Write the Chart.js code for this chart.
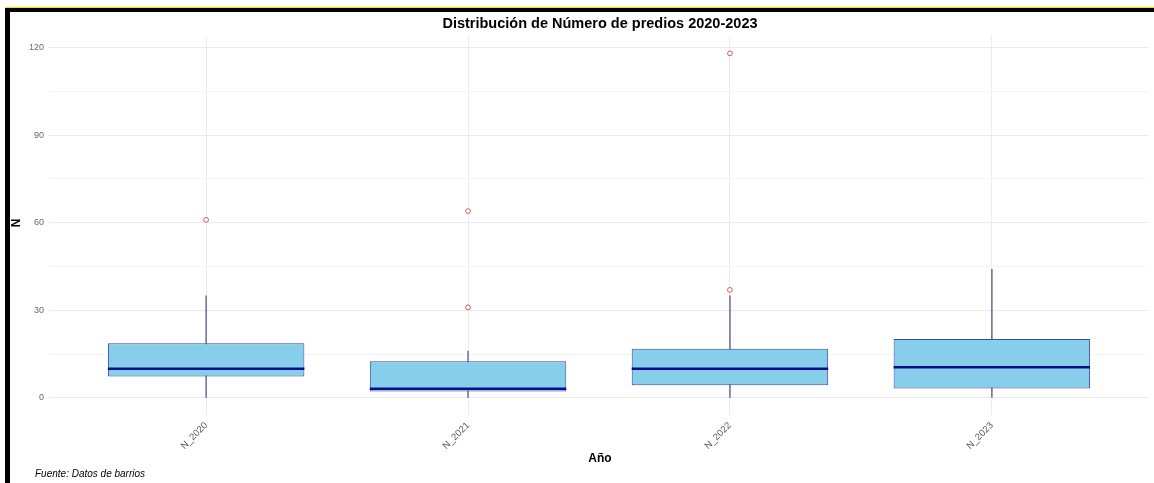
<!DOCTYPE html>
<html lang="es">
<head>
<meta charset="utf-8">
<title>Distribución de Número de predios 2020-2023</title>
<script src="https://cdn.jsdelivr.net/npm/chart.js@4/dist/chart.umd.min.js"></script>
<style>
  html, body { margin: 0; padding: 0; background: #ffffff; }
  #wrap { position: relative; width: 1154px; height: 483px; overflow: hidden; font-family: "Liberation Sans", Arial, sans-serif; }
  #chart { position: absolute; left: 0; top: 0; }
  .frame-top-accent { position: absolute; left: 5px; top: 7px; width: 1149px; height: 1px; background: #f2e600; }
  .frame-top { position: absolute; left: 5px; top: 8px; width: 1149px; height: 4px; background: #000; }
  .frame-left { position: absolute; left: 5px; top: 8px; width: 5px; height: 475px; background: #000; }
  .txt { position: absolute; color: #000; white-space: nowrap; }
  #title { left: 0; width: 1200px; top: 15px; text-align: center; font-weight: bold; font-size: 14.5px; }
  #xtitle { left: 0; width: 1200px; top: 451px; text-align: center; font-weight: bold; font-size: 12px; }
  #ytitle { left: 12px; top: 216px; font-weight: bold; font-size: 12px; transform: rotate(-90deg); transform-origin: center; }
  #caption { left: 35px; top: 468px; font-style: italic; font-size: 10px; }
</style>
</head>
<body>
<div id="wrap">
  <canvas id="chart" width="1154" height="483"></canvas>
  <div class="frame-top-accent"></div>
  <div class="frame-top"></div>
  <div class="frame-left"></div>
  <div class="txt" id="title">Distribución de Número de predios 2020-2023</div>
  <div class="txt" id="xtitle">Año</div>
  <div class="txt" id="ytitle">N</div>
  <div class="txt" id="caption">Fuente: Datos de barrios</div>
</div>
<script>
// Years (categories) and five-number summaries per year
const categories = ["N_2020", "N_2021", "N_2022", "N_2023"];
const whiskerLow = [0, 0, 0, 0];
const q1 = [7.3, 2.2, 4.3, 3.2];
const median = [10, 3.1, 10, 10.5];
const q3 = [18.7, 12.6, 16.8, 20.2];
const whiskerHigh = [35, 16, 35, 44];
// Outlying observations: [category index, value]
const outlierCategory = [0, 1, 1, 2, 2];
const outlierValue = [61, 31, 64, 37, 118];

// Y axis ticks (labels every 30, minor grid every 15)
const yTicks = [0, 15, 30, 45, 60, 75, 90, 105, 120];
const yLabelStep = 30;

const boxData = categories.map((c, i) => ({ x: i + 1, y: [q1[i], q3[i]] }));
const whiskerData = categories.map((c, i) => ({ x: i + 1, y: [whiskerLow[i], whiskerHigh[i]] }));
const outlierData = outlierValue.map((v, k) => ({ x: outlierCategory[k] + 1, y: v }));

// Draws the median line across each box
const medianPlugin = {
  id: 'medianLines',
  afterDatasetsDraw(chart) {
    const meta = chart.getDatasetMeta(1);
    const yScale = chart.scales.y;
    const ctx = chart.ctx;
    ctx.save();
    ctx.strokeStyle = '#0c0c86';
    ctx.lineWidth = 2.5;
    meta.data.forEach((bar, i) => {
      const y = yScale.getPixelForValue(median[i]);
      const half = bar.width / 2;
      ctx.beginPath();
      ctx.moveTo(bar.x - half, y);
      ctx.lineTo(bar.x + half, y);
      ctx.stroke();
    });
    ctx.restore();
  }
};

new Chart(document.getElementById('chart'), {
  type: 'bar',
  data: {
    datasets: [
      {
        type: 'scatter',
        label: 'Atípicos',
        data: outlierData,
        pointStyle: 'circle',
        pointRadius: 2.4,
        pointBorderWidth: 1,
        pointBorderColor: '#dc5850',
        pointBackgroundColor: '#ffffff'
      },
      {
        label: 'Caja',
        data: boxData,
        backgroundColor: '#87ceeb',
        borderColor: '#3a4a9c',
        borderWidth: 1,
        borderSkipped: false,
        grouped: false,
        categoryPercentage: 1,
        barPercentage: 0.75
      },
      {
        label: 'Bigotes',
        data: whiskerData,
        backgroundColor: '#7676aa',
        borderWidth: 0,
        grouped: false,
        barThickness: 1
      }
    ]
  },
  options: {
    responsive: false,
    animation: false,
    events: [],
    layout: { padding: { left: 0, right: 2, top: 35, bottom: 0 } },
    plugins: {
      legend: { display: false },
      tooltip: { enabled: false },
      title: { display: false }
    },
    scales: {
      x: {
        type: 'linear',
        offset: false,
        min: 0.4,
        max: 4.6,
        afterBuildTicks: (s) => { s.ticks = categories.map((c, i) => ({ value: i + 1 })); },
        afterFit: (s) => { s.height = 68; },
        grid: { offset: false, color: '#ececec', lineWidth: 1, drawTicks: false },
        border: { display: false },
        ticks: {
          autoSkip: false,
          minRotation: 45,
          maxRotation: 45,
          padding: 5,
          color: '#5c5c5c',
          font: { family: '"Liberation Sans", Arial, sans-serif', size: 9.5 },
          callback: (v) => categories[Math.round(v) - 1] ?? ''
        }
      },
      y: {
        min: -5.85,
        max: 124.3,
        afterBuildTicks: (s) => { s.ticks = yTicks.map(v => ({ value: v })); },
        afterFit: (s) => { s.width = 49; },
        grid: {
          drawTicks: false,
          lineWidth: 1,
          color: (ctx) => (ctx.tick && ctx.tick.value % yLabelStep === 0) ? '#ebebeb' : '#f4f4f4'
        },
        border: { display: false },
        ticks: {
          padding: 5,
          color: '#6a6a6a',
          font: { family: '"Liberation Sans", Arial, sans-serif', size: 9 },
          callback: (v) => (v % yLabelStep === 0 ? String(v) : '')
        }
      }
    }
  },
  plugins: [medianPlugin]
});
</script>
</body>
</html>
